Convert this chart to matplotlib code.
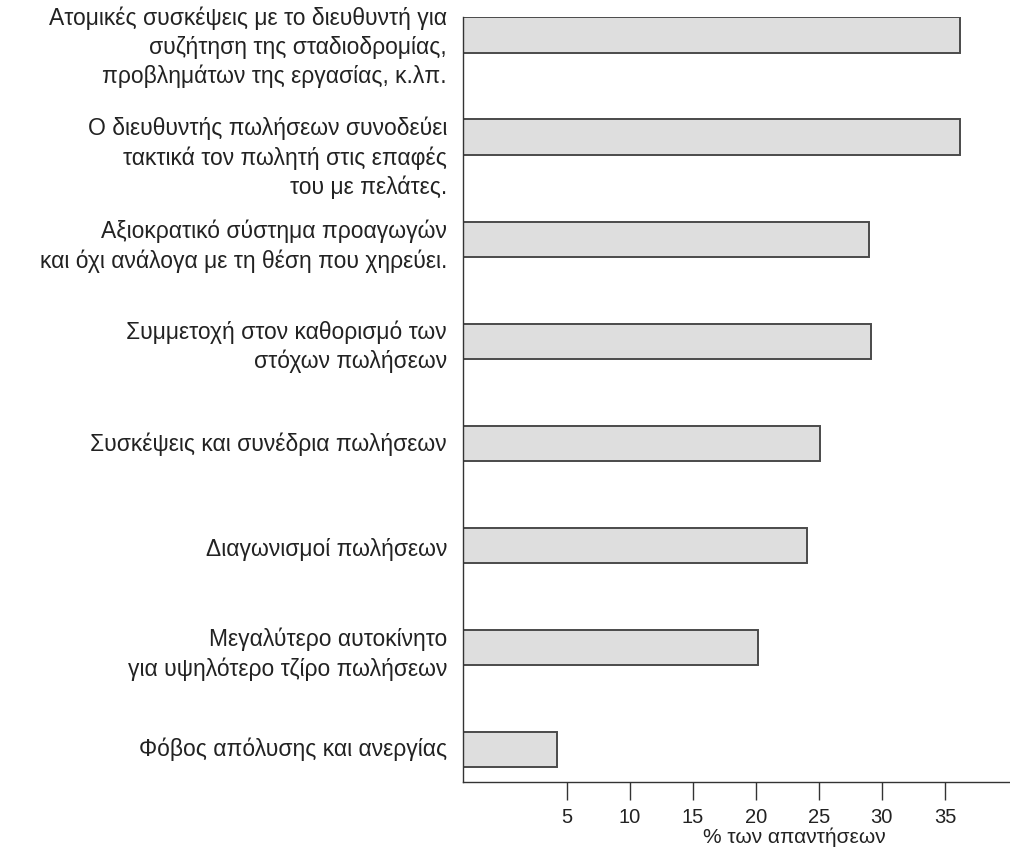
import numpy as np
import matplotlib.pyplot as plt

plt.rcParams['font.family'] = ['Liberation Sans', 'DejaVu Sans']

# κίνητρα πωλητών (% των απαντήσεων)
labels = [
    "Ατομικές συσκέψεις με το διευθυντή για\nσυζήτηση της σταδιοδρομίας,\nπροβλημάτων της εργασίας, κ.λπ.",
    "Ο διευθυντής πωλήσεων συνοδεύει\nτακτικά τον πωλητή στις επαφές\nτου με πελάτες.",
    "Αξιοκρατικό σύστημα προαγωγών\nκαι όχι ανάλογα με τη θέση που χηρεύει.",
    "Συμμετοχή στον καθορισμό των\nστόχων πωλήσεων",
    "Συσκέψεις και συνέδρια πωλήσεων",
    "Διαγωνισμοί πωλήσεων",
    "Μεγαλύτερο αυτοκίνητο\nγια υψηλότερο τζίρο πωλήσεων",
    "Φόβος απόλυσης και ανεργίας",
]
values = [36.2, 36.2, 29.0, 29.1, 25.1, 24.1, 20.2, 4.2]
ticks = [5, 10, 15, 20, 25, 30, 35]

# μικρή κατακόρυφη μετατόπιση κάθε ετικέτας (σε points)
label_shift = [-9, -15, -5, -4, -1, -3, -5, 0]

x0, x1 = -3.22, 40.16
y = np.arange(len(values))

fig = plt.figure(figsize=(10.10, 8.56), dpi=100)
ax = fig.add_axes([0.4584, 0.0864, 0.5416, 0.8937])

ax.barh(y, np.array(values) - x0, left=x0, height=0.345,
        color='#dedede', edgecolor='#4a4a4a', linewidth=1.4)

ax.set_xlim(x0, x1)
ax.set_ylim(7.32, -0.176)

for s in ['top', 'right']:
    ax.spines[s].set_visible(False)
for s in ['left', 'bottom']:
    ax.spines[s].set_color('#333333')
    ax.spines[s].set_linewidth(1.0)

ax.set_xticks(ticks)
ax.set_xticklabels([str(t) for t in ticks])
ax.tick_params(axis='x', direction='out', length=13, width=1.0,
               color='#333333', pad=6, labelsize=14.5, labelcolor='#222222')
ax.set_yticks([])

for yi, lab, dy in zip(y, labels, label_shift):
    ax.annotate(lab, xy=(0, yi), xycoords=ax.get_yaxis_transform(),
                xytext=(-11.5, dy), textcoords='offset points',
                ha='right', va='center', fontsize=16.5, color='#222222',
                linespacing=1.32, multialignment='right')

ax.set_xlabel('% των απαντήσεων', fontsize=15, color='#222222')
ax.xaxis.set_label_coords(0.605, -0.060)

fig.savefig('out.png', dpi=100)
